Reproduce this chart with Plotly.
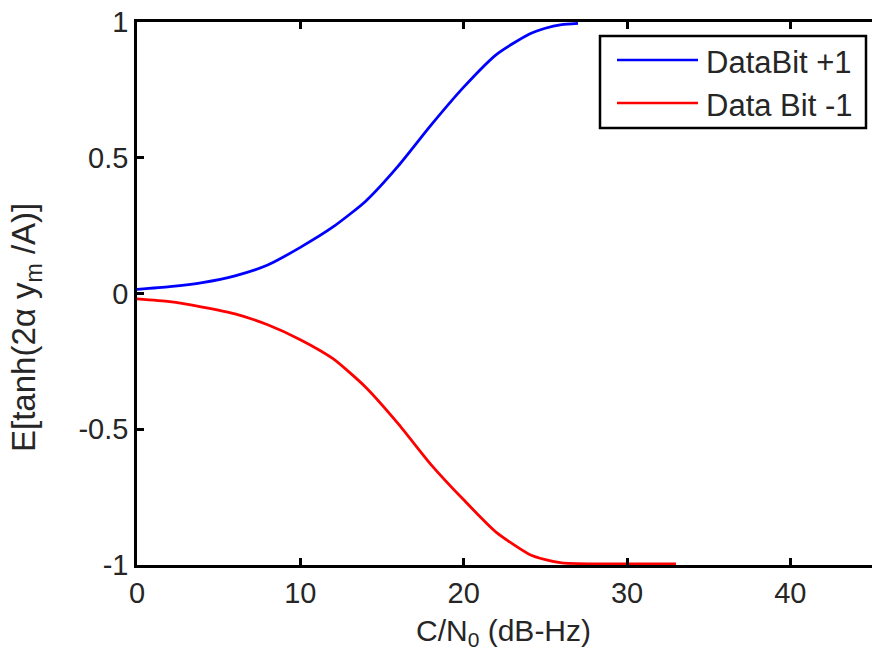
import plotly.graph_objects as go

# Data
cn0_plus = [0, 2, 4, 6, 8, 10, 12, 14, 16, 18, 20, 22, 24, 25, 26, 27]
e_plus = [0.015, 0.025, 0.04, 0.065, 0.105, 0.17, 0.245, 0.34, 0.47, 0.62, 0.76, 0.88,
          0.955, 0.977, 0.99, 0.995]

cn0_minus = [0, 2, 4, 6, 8, 10, 12, 14, 16, 18, 20, 22, 24, 25, 26, 28, 33]
e_minus = [-0.02, -0.03, -0.05, -0.075, -0.115, -0.17, -0.24, -0.345, -0.48, -0.63, -0.76,
           -0.88, -0.96, -0.98, -0.992, -0.996, -0.996]

series_names = ["DataBit +1", "Data Bit -1"]
series_colors = ["#0000FF", "#FF0000"]

x_ticks = [0, 10, 20, 30, 40]
y_ticks = [-1, -0.5, 0, 0.5, 1]
y_ticklabels = ["-1", "-0.5", "0", "0.5", "1"]

W, H = 873, 656
ML, MR, MT, MB = 137, 1, 22, 91
FONT = "Liberation Sans, Arial, sans-serif"
FS = 29
TXT = "#262626"

fig = go.Figure()
fig.add_trace(go.Scatter(x=cn0_plus, y=e_plus, mode="lines", name=series_names[0],
                         line=dict(color=series_colors[0], width=2.8, shape="spline",
                                   smoothing=0.6), showlegend=False))
fig.add_trace(go.Scatter(x=cn0_minus, y=e_minus, mode="lines", name=series_names[1],
                         line=dict(color=series_colors[1], width=2.8, shape="spline",
                                   smoothing=0.6), showlegend=False))

pw = W - ML - MR
ph = H - MT - MB


def px_x(p):
    return (p - ML) / pw


def px_y(p):
    return (H - MB - p) / ph


# Manual legend (MATLAB style)
fig.add_shape(type="rect", xref="paper", yref="paper",
              x0=px_x(600), x1=px_x(866), y0=px_y(128), y1=px_y(36),
              line=dict(color="black", width=2.5), fillcolor="white", layer="above")
rows_y = [60, 103]
for name, col, ry in zip(series_names, series_colors, rows_y):
    fig.add_shape(type="line", xref="paper", yref="paper",
                  x0=px_x(617), x1=px_x(698), y0=px_y(ry), y1=px_y(ry),
                  line=dict(color=col, width=2.6), layer="above")
    fig.add_annotation(xref="paper", yref="paper", x=px_x(704), y=px_y(ry + 2),
                       text=name, showarrow=False, xanchor="left", yanchor="middle",
                       font=dict(family=FONT, size=31, color=TXT))

# Axis titles
fig.add_annotation(xref="paper", yref="paper", x=px_x(503), y=px_y(632),
                   text="C/N<sub>0</sub> (dB-Hz)", showarrow=False,
                   xanchor="center", yanchor="middle",
                   font=dict(family=FONT, size=30, color=TXT))
fig.add_annotation(xref="paper", yref="paper", x=px_x(26), y=px_y(328),
                   text="E[tanh(2α y<sub>m</sub> /A)]", showarrow=False, textangle=-90,
                   xanchor="center", yanchor="middle",
                   font=dict(family=FONT, size=33, color=TXT))

fig.update_layout(
    width=W, height=H,
    margin=dict(l=ML, r=MR, t=MT, b=MB, pad=0),
    plot_bgcolor="white", paper_bgcolor="white",
    font=dict(family=FONT, size=FS, color=TXT),
    showlegend=False,
)
fig.update_xaxes(range=[0, 45], tickvals=x_ticks, ticks="inside", ticklen=7, tickwidth=2.5,
                 tickcolor="black", showline=True, linecolor="black", linewidth=2.5,
                 mirror="ticks", showgrid=False, zeroline=False,
                 tickfont=dict(family=FONT, size=FS, color=TXT), ticklabelstandoff=0)
fig.update_yaxes(range=[-1, 1], tickvals=y_ticks, ticktext=y_ticklabels, ticks="inside",
                 ticklen=7, tickwidth=2.5, tickcolor="black", showline=True,
                 linecolor="black", linewidth=2.5, mirror=False, showgrid=False,
                 zeroline=False, tickfont=dict(family=FONT, size=FS, color=TXT),
                 ticklabelstandoff=0)

fig.write_html("out.html")
